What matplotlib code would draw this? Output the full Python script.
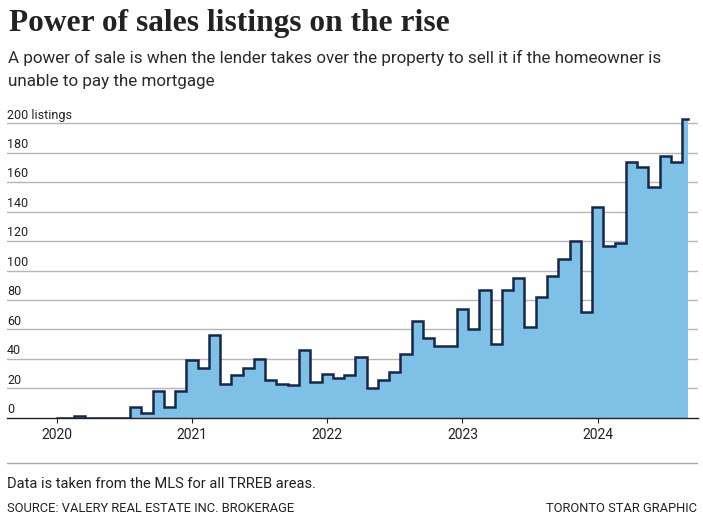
import matplotlib
matplotlib.use("Agg")
import matplotlib.pyplot as plt
from matplotlib.lines import Line2D
import numpy as np

# Monthly power of sale listings, Jan 2020 - Sep 2024
listings_2020 = [0, 0, 1, 0, 0, 0, 0, 7, 3, 18, 7, 18]
listings_2021 = [39, 34, 56, 23, 29, 34, 40, 26, 23, 22, 46, 24]
listings_2022 = [30, 27, 29, 41, 20, 26, 31, 43, 66, 54, 49, 49]
listings_2023 = [74, 60, 87, 50, 87, 95, 62, 82, 96, 108, 120, 72]
listings_2024 = [143, 117, 119, 174, 170, 157, 178, 174, 203]

years = ["2020", "2021", "2022", "2023", "2024"]
y_ticks = [0, 20, 40, 60, 80, 100, 120, 140, 160, 180, 200]

listings = np.array(listings_2020 + listings_2021 + listings_2022
                    + listings_2023 + listings_2024)
months = np.arange(len(listings))

W, H = 703, 522
fig = plt.figure(figsize=(W / 100, H / 100), dpi=100)
fig.patch.set_facecolor("white")

sans = ["Roboto", "DejaVu Sans"]
text_color = "#222222"

ax = fig.add_axes([7 / W, 1 - 417.8 / H, 691 / W, 206 * 1.4725 / H])
ax.set_xlim(-4.41, 56.9)
ax.set_ylim(0, 206)

# gridlines
for v in y_ticks[1:]:
    ax.axhline(v, color="#b5b5b5", lw=1.0, zorder=1)

ax.fill_between(months, listings, step="mid", color="#7fc0e7", lw=0, zorder=2)
ax.plot(months, listings, drawstyle="steps-mid", color="#16284a", lw=1.8,
        zorder=3, solid_joinstyle="miter")

for s in ["top", "right", "left"]:
    ax.spines[s].set_visible(False)
ax.spines["bottom"].set_color("#222222")
ax.spines["bottom"].set_linewidth(1.0)
ax.spines["bottom"].set_zorder(4)

ax.set_yticks([])
ax.set_xticks([12 * i for i in range(len(years))])
ax.set_xticklabels(years, family=sans, fontsize=10, color=text_color)
ax.tick_params(axis="x", length=3.6, width=0.8, color="#222222", pad=3.6)

# y labels sit above their gridlines at the left edge
for v in y_ticks:
    label = f"{v} listings" if v == y_ticks[-1] else str(v)
    ax.annotate(label, xy=(0, v), xycoords=("axes fraction", "data"),
                xytext=(0, 3.4), textcoords="offset points",
                ha="left", va="baseline", family=sans, fontsize=9,
                color=text_color)

# titles
fig.text(9 / W, 1 - 30.7 / H, "Power of sales listings on the rise",
         family=["Liberation Serif", "DejaVu Serif"], fontweight="bold",
         fontsize=22.6, color="#222222", ha="left", va="baseline")
fig.text(8 / W, 1 - 63.3 / H,
         "A power of sale is when the lender takes over the property to sell it if the homeowner is",
         family=sans, fontsize=12.25, color="#2a2a2a", ha="left", va="baseline")
fig.text(8 / W, 1 - 86 / H, "unable to pay the mortgage",
         family=sans, fontsize=12.25, color="#2a2a2a", ha="left", va="baseline")

# footer
fig.add_artist(Line2D([7 / W, 697 / W], [1 - 463.3 / H, 1 - 463.3 / H],
                      transform=fig.transFigure, color="#a8a8a8", lw=1.0))
fig.text(7 / W, 1 - 487.7 / H, "Data is taken from the MLS for all TRREB areas.",
         family=sans, fontsize=10.5, color=text_color, ha="left", va="baseline")
fig.text(7 / W, 1 - 512.3 / H, "SOURCE: VALERY REAL ESTATE INC. BROKERAGE",
         family=sans, fontsize=9.3, color=text_color, ha="left", va="baseline")
fig.text(697 / W, 1 - 512.3 / H, "TORONTO STAR GRAPHIC",
         family=sans, fontsize=9.3, color=text_color, ha="right", va="baseline")

fig.savefig("out.png", dpi=100)
